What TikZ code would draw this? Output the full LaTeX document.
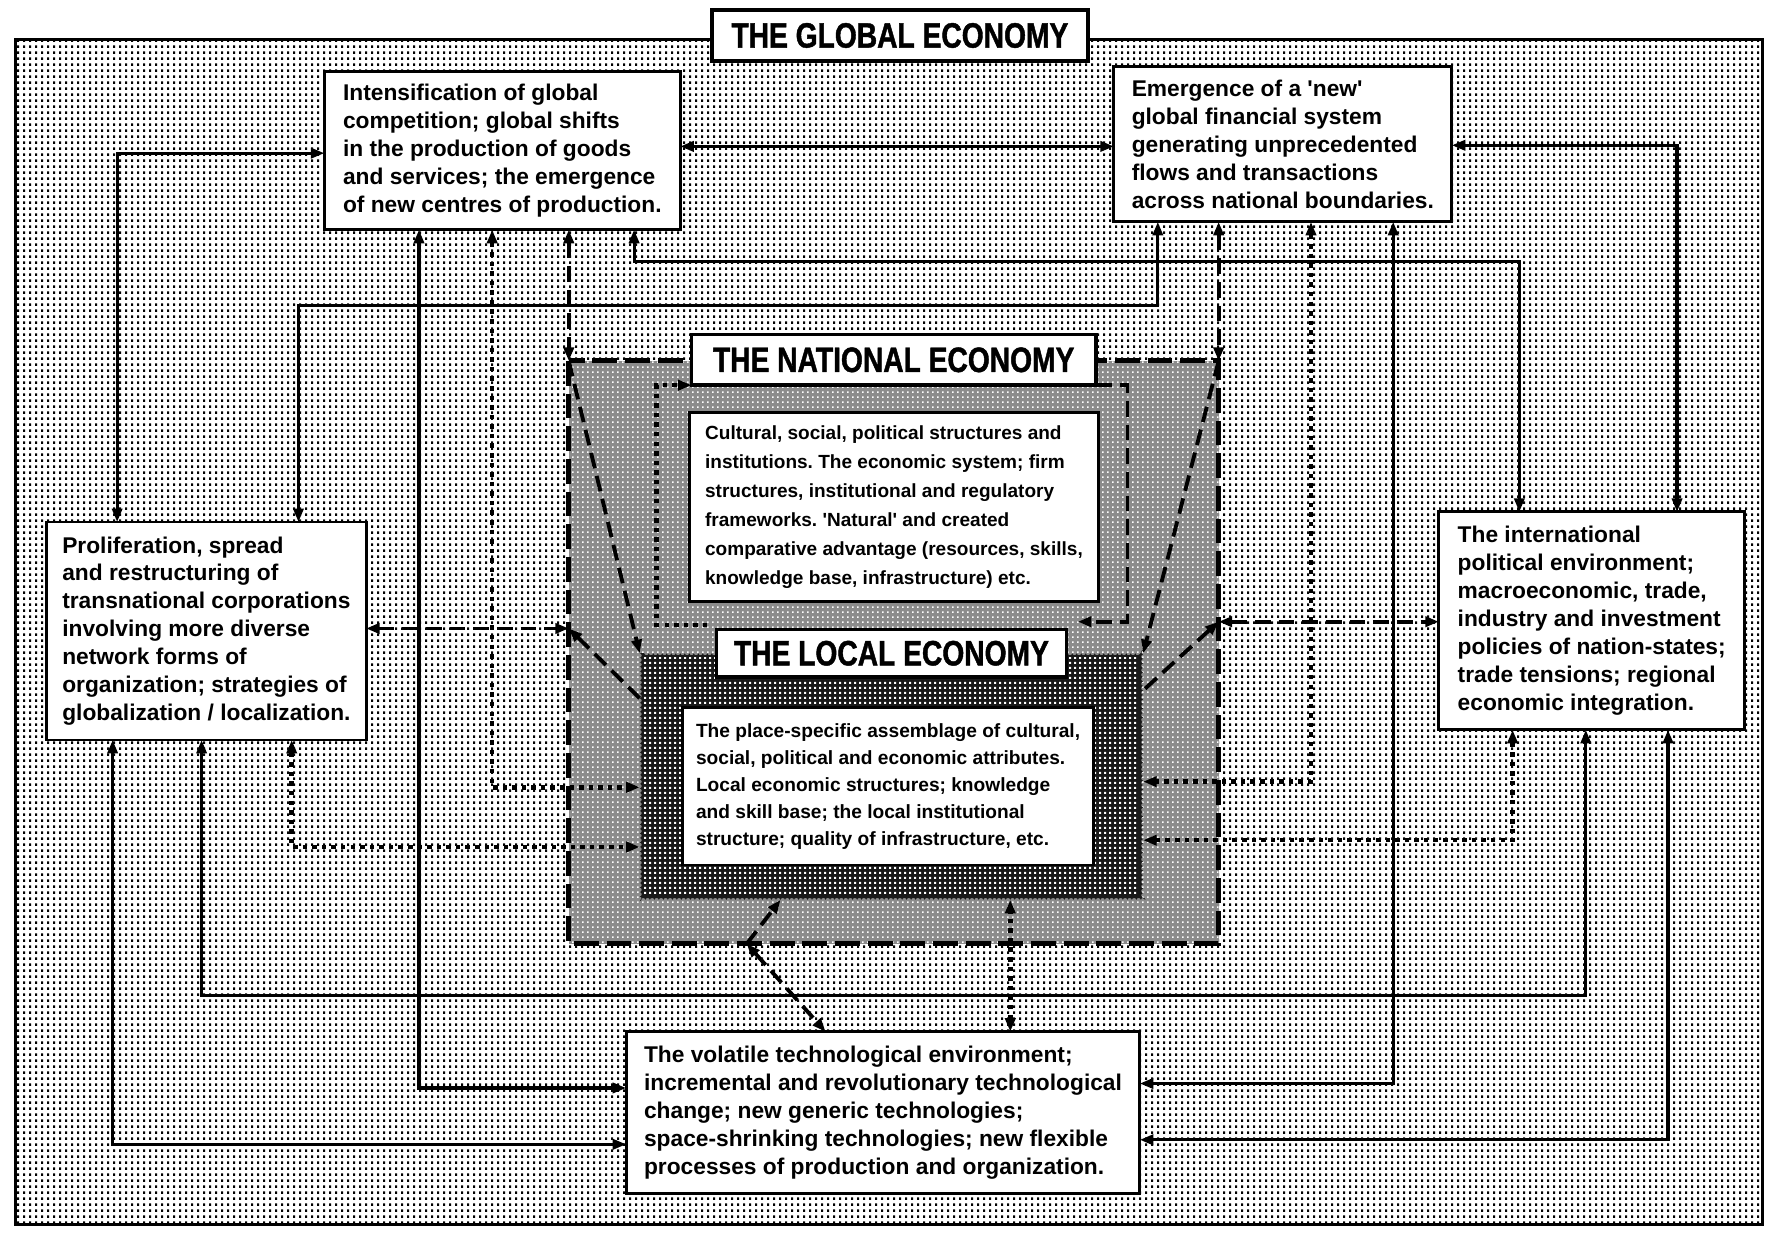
\documentclass[tikz,border=0pt]{standalone}
\usepackage{fontspec}
\setmainfont{Liberation Sans}
\newfontfamily\titlefont[FakeStretch=0.8,FakeBold=1.2]{Liberation Sans}
\usetikzlibrary{arrows.meta,patterns,decorations.pathmorphing}

% halftone screens
\pgfdeclarepatternformonly{fieldgrain}{\pgfqpoint{0pt}{0pt}}{\pgfqpoint{5.3pt}{5.3pt}}{\pgfqpoint{5.3pt}{5.3pt}}{%
  \pgfpathrectangle{\pgfqpoint{0pt}{0pt}}{\pgfqpoint{1.8pt}{2.4pt}}\pgfusepath{fill}}
\pgfdeclarepatternformonly{nationgrain}{\pgfqpoint{0pt}{0pt}}{\pgfqpoint{4pt}{4pt}}{\pgfqpoint{4pt}{4pt}}{%
  \pgfpathrectangle{\pgfqpoint{0pt}{0pt}}{\pgfqpoint{1.5pt}{1.5pt}}\pgfusepath{fill}}
\pgfdeclarepatternformonly{localgrain}{\pgfqpoint{0pt}{0pt}}{\pgfqpoint{4.4pt}{4.4pt}}{\pgfqpoint{4.4pt}{4.4pt}}{%
  \pgfpathrectangle{\pgfqpoint{0pt}{0pt}}{\pgfqpoint{1.9pt}{1.9pt}}\pgfusepath{fill}}

\newcommand\gtextfont{\frenchspacing\bfseries\fontsize{20.2}{24.8}\selectfont}
\newcommand\ntextfont{\frenchspacing\bfseries\fontsize{16.9}{25.7}\selectfont}
\newcommand\ltextfont{\frenchspacing\bfseries\fontsize{17}{24}\selectfont}

\begin{document}
\begin{tikzpicture}[x=1pt,y=-1pt,
  >={Triangle[length=12pt,width=9pt]},
  region/.style={inner sep=0pt, outer sep=0pt},
  gbox/.style={draw, line width=2.6pt, fill=white, inner sep=0pt,
    outer sep=0pt, align=left, font=\gtextfont},
  ttl/.style={draw, line width=3pt, fill=white, inner sep=0pt, outer sep=0pt,
    font=\titlefont\bfseries\fontsize{31.3}{34}\selectfont},
  sol/.style={line width=2.8pt, <->},
  dsh/.style={line width=3.4pt, dash pattern=on 14pt off 7pt},
  dts/.style={line width=4pt, dash pattern=on 4pt off 4.5pt},
]
\useasboundingbox (0,0) rectangle (1568,1097);

% the global field
\node[region, minimum width=1551pt, minimum height=1052pt, draw, line width=3pt,
  preaction={fill=white}, pattern=fieldgrain, pattern color=black] (field) at (789.5,561) {};

% national economy
\node[region, minimum width=577pt, minimum height=517.5pt,
  preaction={fill=black!45}, pattern=nationgrain, pattern color=white] (nat) at (793.5,579.25) {};
\draw[line width=4.4pt, dash pattern=on 22pt off 7pt] (nat.north west) rectangle (nat.south east);

% local economy
\node[region, minimum width=447pt, minimum height=219pt] (loc) at (791.5,689.5) {};
\fill[black!90, decorate, decoration={bumps, segment length=8pt, amplitude=1.8pt}]
  (loc.north west) rectangle (loc.south east);
\fill[pattern=localgrain, pattern color=white]
  ([shift={(4,4)}]loc.north west) rectangle ([shift={(-4,-4)}]loc.south east);

% titles
\node[ttl, minimum width=334pt, minimum height=45pt] (globT) at (799,31.5) {THE GLOBAL ECONOMY};
\node[ttl, minimum width=359pt, minimum height=45pt] (natT) at (793.5,319.5) {THE NATIONAL ECONOMY};
\node[ttl, minimum width=311pt, minimum height=42pt] (locT) at (791.5,580) {THE LOCAL ECONOMY};

% text boxes
\node[gbox, minimum width=316pt, minimum height=140.5pt] (A) at (446,133.75)
  {Intensification of global\\competition; global shifts\\in the production of goods\\and services; the emergence\\of new centres of production.};
\node[gbox, minimum width=300pt, minimum height=138pt] (B) at (1139,128)
  {Emergence of a \textquotesingle new\textquotesingle\\global financial system\\generating unprecedented\\flows and transactions\\across national boundaries.};
\node[gbox, minimum width=283.5pt, minimum height=193.5pt] (C) at (183.25,560.25)
  {Proliferation, spread\\and restructuring of\\transnational corporations\\involving more diverse\\network forms of\\organization; strategies of\\globalization / localization.};
\node[gbox, minimum width=271.5pt, minimum height=193.5pt] (D) at (1413.25,551.25)
  {The international\\political environment;\\macroeconomic, trade,\\industry and investment\\policies of nation-states;\\trade tensions; regional\\economic integration.};
\node[gbox, minimum width=456pt, minimum height=144pt] (E) at (784,988)
  {The volatile technological environment;\\incremental and revolutionary technological\\change; new generic technologies;\\space-shrinking technologies; new flexible\\processes of production and organization.};
\node[gbox, minimum width=362.5pt, minimum height=168pt, font=\ntextfont] (natX) at (793.75,450)
  {Cultural, social, political structures and\\institutions. The economic system; firm\\structures, institutional and regulatory\\frameworks. \textquotesingle Natural\textquotesingle\ and created\\comparative advantage (resources, skills,\\knowledge base, infrastructure) etc.};
\node[gbox, minimum width=365pt, minimum height=139.5pt, font=\ltextfont] (locX) at (788.5,698.25)
  {The place-specific assemblage of cultural,\\social, political and economic attributes.\\Local economic structures; knowledge\\and skill base; the local institutional\\structure; quality of infrastructure, etc.};

% links inside the national economy
\draw[dsh, ->] (nat.north west) -- (loc.north west);
\draw[dsh, <-] (nat.west |- 0,558) -- (loc.west |- 0,620);
\draw[dsh, ->] (nat.north east) -- (loc.north east);
\draw[dsh, <-] (nat.east |- 0,552) -- (loc.east |- 0,613);
\draw[dsh, ->] (nat.south -| 663,0) -- (loc.south -| 693,0);
\draw[dsh, ->] (natT.south east) -- ++(28,0) |- ([shift={(10,-7)}]locT.north east);
\draw[dts, ->] ([shift={(-8,-4)}]locT.north west) -- ++(-45,0) |- (natT.south west);

% global -- national (dashed)
\draw[dsh, <->] (nat.north west |- A.south) -- (nat.north west);
\draw[dsh, <->] (nat.north east |- B.south) -- (nat.north east);
\draw[dsh, <->] (C.east |- 0,558) -- (nat.west |- 0,558);
\draw[dsh, <->] (nat.east |- 0,552) -- (D.west |- 0,552);
\draw[dsh, <->] (nat.south -| 663,0) -- (E.north -| 733,0);

% global -- local (dotted)
\draw[dts, <->] (A.south -| 437,0) |- (loc.west |- 0,699);
\draw[dts, <->] (C.south -| 259,0) |- (loc.west |- 0,752);
\draw[dts, <->] (B.south -| 1164,0) |- (loc.east |- 0,694);
\draw[dts, <->] (D.south -| 1343,0) |- (loc.east |- 0,746);
\draw[dts, <->] (E.north -| 897,0) -- (loc.south -| 897,0);

% global -- global (solid)
\draw[sol] (A.east |- 0,130) -- (B.west |- 0,130);
\draw[sol] (A.west |- 0,136) -| (C.north -| 104,0);
\draw[sol] (B.east |- 0,129) -| (D.north -| 1489,0);
\draw[sol] (B.south -| 1028,0) -- ++(0,74) -| (C.north -| 265,0);
\draw[sol] (A.south -| 563,0) -- ++(0,28) -| (D.north -| 1349,0);
\draw[sol] (A.south -| 372,0) |- (E.west |- 0,966);
\draw[sol] (C.south -| 100,0) |- (E.west |- 0,1016);
\draw[sol] (C.south -| 179,0) -- ++(0,227) -| (D.south -| 1408,0);
\draw[sol] (B.south -| 1237,0) |- (E.east |- 0,962);
\draw[sol] (D.south -| 1481,0) |- (E.east |- 0,1012);
\end{tikzpicture}
\end{document}
